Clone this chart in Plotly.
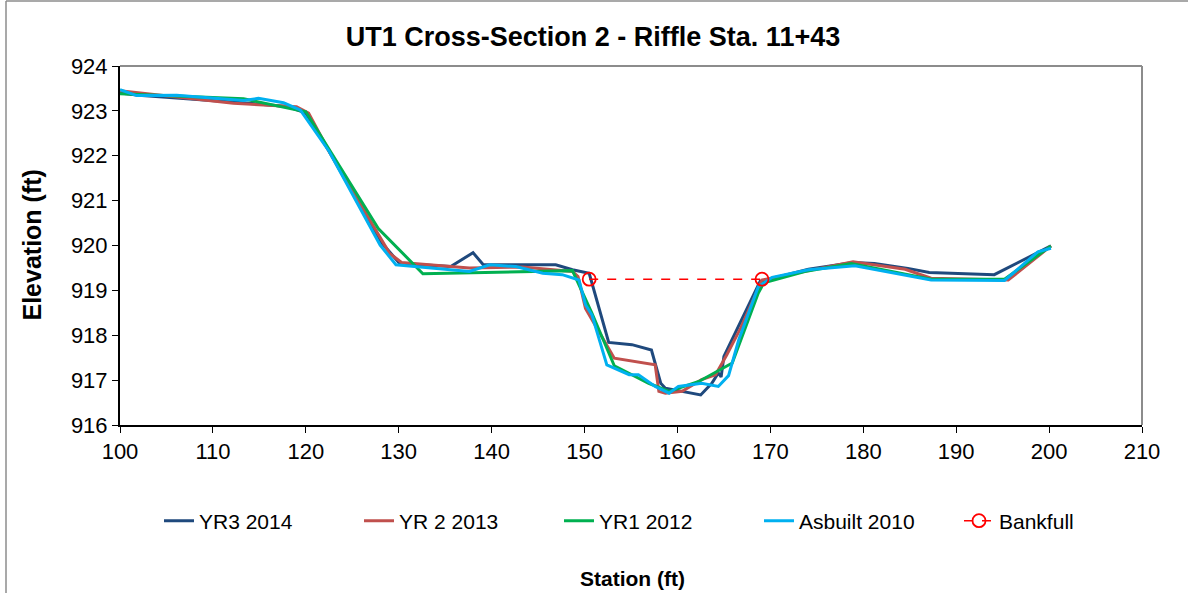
"""
UT1 Cross-Section 2 - Riffle Sta. 11+43
Cross-section survey chart (station vs elevation).
"""

import plotly.graph_objects as go


# ==========================================================
# Survey data
# ==========================================================

yr3_station = [100.0, 102.0, 112.0, 118.0, 120.0, 122.5, 128.0, 130.1, 135.6, 138.0,
               139.1, 146.9, 148.7, 150.5, 152.6, 155.1, 157.2, 158.2, 158.7, 162.5,
               163.7, 164.4, 164.7, 165.0, 168.9, 174.1, 178.9, 181.2, 184.8, 187.1,
               194.1, 200.2]
yr3_elev = [923.40, 923.35, 923.20, 923.10, 922.95, 922.10, 920.10, 919.60, 919.53, 919.84,
            919.57, 919.57, 919.46, 919.38, 917.84, 917.79, 917.67, 916.93, 916.82, 916.67,
            916.93, 917.16, 917.07, 917.53, 919.20, 919.47, 919.62, 919.60, 919.49, 919.40,
            919.35, 919.99]

yr2_station = [100.0, 112.2, 119.0, 120.3, 122.5, 129.0, 130.3, 137.6, 143.3, 148.7,
               149.3, 150.1, 153.2, 157.6, 158.0, 158.7, 160.5, 162.6, 164.1, 165.3,
               166.8, 169.1, 178.9, 184.5, 187.3, 195.6, 200.2]
yr2_elev = [923.45, 923.17, 923.09, 922.95, 922.10, 919.83, 919.62, 919.50, 919.52, 919.42,
            919.31, 918.60, 917.49, 917.34, 916.75, 916.71, 916.75, 917.01, 917.12, 917.56,
            918.16, 919.23, 919.64, 919.47, 919.27, 919.23, 919.99]

yr1_station = [100.0, 113.3, 120.0, 122.5, 127.8, 132.6, 148.7, 150.8, 153.2, 156.9,
               159.1, 162.3, 165.9, 168.7, 169.3, 173.7, 178.7, 187.3, 195.2, 200.2]
yr1_elev = [923.38, 923.27, 922.98, 922.15, 920.38, 919.37, 919.44, 918.49, 917.32, 916.93,
            916.75, 916.97, 917.38, 918.94, 919.17, 919.42, 919.60, 919.25, 919.25, 919.99]

asb_station = [100.0, 101.8, 106.1, 113.3, 114.9, 117.6, 119.4, 122.5, 128.0, 129.7,
               137.6, 139.8, 142.6, 145.5, 147.6, 149.4, 150.1, 150.8, 152.4, 154.8,
               155.8, 157.6, 159.1, 160.1, 162.6, 164.4, 165.5, 166.6, 168.7, 170.2,
               174.1, 179.1, 187.3, 195.2, 198.8, 200.2]
asb_elev = [923.47, 923.34, 923.35, 923.23, 923.28, 923.18, 923.02, 922.10, 920.01, 919.57,
            919.42, 919.57, 919.53, 919.38, 919.35, 919.23, 918.68, 918.45, 917.34, 917.12,
            917.12, 916.86, 916.71, 916.86, 916.93, 916.86, 917.10, 917.90, 919.08, 919.29,
            919.46, 919.55, 919.23, 919.22, 919.86, 919.94]

bankfull_station = [150.5, 169.1]
bankfull_elev = [919.25, 919.25]


# ==========================================================
# Figure
# ==========================================================

fig = go.Figure()

series = [
    ("YR3 2014", yr3_station, yr3_elev, "#1F497D"),
    ("YR 2 2013", yr2_station, yr2_elev, "#C0504D"),
    ("YR1 2012", yr1_station, yr1_elev, "#00B050"),
    ("Asbuilt 2010", asb_station, asb_elev, "#00B0F0"),
]

for name, xs, ys, color in series:
    fig.add_trace(go.Scatter(
        x=xs,
        y=ys,
        name=name,
        mode="lines",
        line=dict(color=color, width=3),
    ))

fig.add_trace(go.Scatter(
    x=bankfull_station,
    y=bankfull_elev,
    name="Bankfull",
    mode="lines+markers",
    line=dict(color="#FF0000", width=1.5, dash="dash"),
    marker=dict(symbol="circle-open", size=13, color="#FF0000",
                line=dict(width=1.8, color="#FF0000")),
))

font = "Liberation Sans, Arial, sans-serif"

# plot area in page pixels: x 120..1142, y 66..425
W, H = 1022, 359

fig.update_layout(
    width=1188,
    height=593,
    paper_bgcolor="white",
    plot_bgcolor="white",
    font=dict(family=font, size=22, color="black"),
    title=dict(
        text="<b>UT1 Cross-Section 2 - Riffle Sta. 11+43</b>",
        x=593 / 1188,
        xanchor="center",
        y=1 - 37 / 593,
        yanchor="middle",
        font=dict(size=27, family=font, color="black"),
    ),
    margin=dict(l=120, r=46, t=66, b=168),
    showlegend=True,
    legend=dict(
        orientation="h",
        x=(659 - 120) / W,
        xanchor="center",
        y=(425 - 521) / H,
        yanchor="middle",
        font=dict(size=21),
        traceorder="normal",
        entrywidth=155,
        entrywidthmode="pixels",
    ),
    annotations=[
        dict(
            text="<b>Station (ft)</b>",
            xref="paper", yref="paper",
            x=(632 - 120) / W, y=(425 - 578) / H,
            xanchor="center", yanchor="middle",
            showarrow=False,
            font=dict(size=21),
        ),
        dict(
            text="<b>Elevation (ft)</b>",
            xref="paper", yref="paper",
            x=(31 - 120) / W, y=0.5,
            xanchor="center", yanchor="middle",
            textangle=-90,
            showarrow=False,
            font=dict(size=25),
        ),
    ],
    shapes=[
        # gray plot-area border (top and right)
        dict(type="line", xref="paper", yref="paper", x0=0, x1=1, y0=1, y1=1,
             line=dict(color="#8C8C8C", width=2)),
        dict(type="line", xref="paper", yref="paper", x0=1, x1=1, y0=0, y1=1,
             line=dict(color="#8C8C8C", width=2)),
        # chart-area border
        dict(type="line", xref="paper", yref="paper",
             x0=(6 - 120) / W, x1=(1300 - 120) / W, y0=(425 - 1) / H, y1=(425 - 1) / H,
             line=dict(color="#8C8C8C", width=1.5)),
        dict(type="line", xref="paper", yref="paper",
             x0=(6 - 120) / W, x1=(6 - 120) / W, y0=(425 - 1) / H, y1=(425 - 700) / H,
             line=dict(color="#8C8C8C", width=1.5)),
    ],
)

fig.update_xaxes(
    range=[100, 210],
    dtick=10,
    showgrid=False,
    zeroline=False,
    showline=True,
    linecolor="black",
    linewidth=2,
    ticks="outside",
    ticklen=6,
    tickcolor="black",
)

fig.update_yaxes(
    range=[916, 924],
    dtick=1,
    showgrid=False,
    zeroline=False,
    showline=True,
    linecolor="black",
    linewidth=2,
    ticks="outside",
    ticklen=6,
    tickcolor="black",
)

fig.write_html(
    "out.html",
    config={"displayModeBar": False},
    post_script="document.body.style.margin='0px';",
)
